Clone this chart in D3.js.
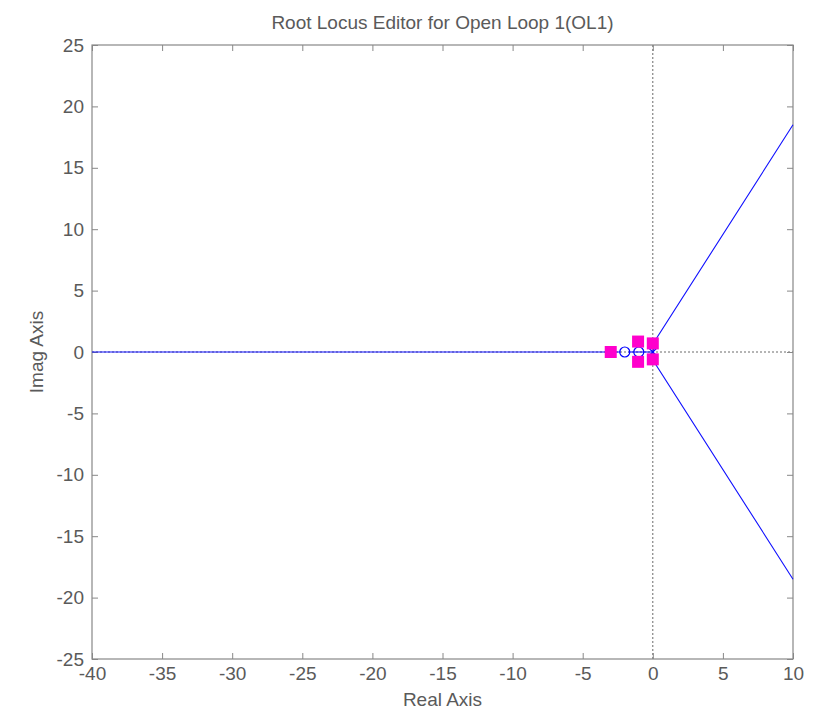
<!DOCTYPE html>
<html>
<head>
<meta charset="utf-8">
<script src="https://cdn.jsdelivr.net/npm/d3@7"></script>
<style>
  body { margin: 0; background: #fff; }
  text { font-family: "Liberation Sans", Helvetica, Arial, sans-serif; fill: #5a5a5a; }
</style>
</head>
<body>
<svg></svg>
<script>
const width = 814;
const height = 711;
const margin = { top: 45, right: 21, bottom: 52, left: 92 };

// axis ticks
const xTicks = [-40, -35, -30, -25, -20, -15, -10, -5, 0, 5, 10];
const yTicks = [-25, -20, -15, -10, -5, 0, 5, 10, 15, 20, 25];

// locus branches [re, im]
const branchUpper = [[0, 0], [0.2, 1.0], [10, 18.5]];
const branchLower = [[0, 0], [0.2, -1.0], [10, -18.5]];
const branchReal = [[-40, 0], [-2.3, 0]];
const branchInner = [[-1.75, 0], [-1.3, 0], [-0.7, 0], [0, 0]];

// open loop zeros / poles
const zeros = [[-2, 0], [-1, 0]];
const olPoles = [[0, 0]];
// closed loop poles
const clPoles = [[-3, 0], [-1.05, 0.85], [-1.05, -0.8], [0, 0.7], [0, -0.6]];

const svg = d3.select('svg')
  .attr('width', width)
  .attr('height', height);

const x = d3.scaleLinear().domain([-40, 10]).range([margin.left, width - margin.right]);
const y = d3.scaleLinear().domain([-25, 25]).range([height - margin.bottom, margin.top]);

const axisColor = '#888';
const fmt = d => String(d);

// dotted zero lines
svg.append('line')
  .attr('x1', x(0)).attr('x2', x(0))
  .attr('y1', y(25)).attr('y2', y(-25))
  .attr('stroke', '#444').attr('stroke-width', 0.8)
  .attr('stroke-dasharray', '2,2');
svg.append('line')
  .attr('x1', x(-40)).attr('x2', x(10))
  .attr('y1', y(0)).attr('y2', y(0))
  .attr('stroke', '#444').attr('stroke-width', 0.8)
  .attr('stroke-dasharray', '2,2');

// axes (ticks inside)
const styleAxis = g => {
  g.select('.domain').remove();
  g.selectAll('line').attr('stroke', axisColor);
  g.selectAll('text').attr('fill', '#5a5a5a').style('font-size', '19px');
};

svg.append('g')
  .attr('transform', `translate(0,${y(-25)})`)
  .call(d3.axisBottom(x).tickValues(xTicks).tickFormat(fmt).tickSizeInner(-6).tickSizeOuter(0).tickPadding(8))
  .call(styleAxis);
svg.append('g')
  .attr('transform', `translate(0,${y(25)})`)
  .call(d3.axisTop(x).tickValues(xTicks).tickSizeInner(-6).tickSizeOuter(0).tickFormat(''))
  .call(styleAxis);
svg.append('g')
  .attr('transform', `translate(${x(-40)},0)`)
  .call(d3.axisLeft(y).tickValues(yTicks).tickFormat(fmt).tickSizeInner(-6).tickSizeOuter(0).tickPadding(8))
  .call(styleAxis);
svg.append('g')
  .attr('transform', `translate(${x(10)},0)`)
  .call(d3.axisRight(y).tickValues(yTicks).tickSizeInner(-6).tickSizeOuter(0).tickFormat(''))
  .call(styleAxis);

// frame
svg.append('rect')
  .attr('x', x(-40)).attr('y', y(25))
  .attr('width', x(10) - x(-40)).attr('height', y(-25) - y(25))
  .attr('fill', 'none').attr('stroke', axisColor).attr('stroke-width', 1.2);

// locus
const line = d3.line().x(d => x(d[0])).y(d => y(d[1]));
svg.selectAll('path.locus')
  .data([branchUpper, branchLower, branchReal, branchInner])
  .enter()
  .append('path')
    .attr('class', 'locus')
    .attr('d', line)
    .attr('fill', 'none')
    .attr('stroke', '#1010ff')
    .attr('stroke-width', 1.1);

// zeros
svg.selectAll('circle.zero')
  .data(zeros)
  .enter()
  .append('circle')
    .attr('class', 'zero')
    .attr('cx', d => x(d[0]))
    .attr('cy', d => y(d[1]))
    .attr('r', 5)
    .attr('fill', 'none')
    .attr('stroke', '#0000ff')
    .attr('stroke-width', 1.2);

// open loop poles
const xs = 4;
olPoles.forEach(p => {
  const cx = x(p[0]), cy = y(p[1]);
  svg.append('path')
    .attr('d', `M${cx - xs},${cy - xs}L${cx + xs},${cy + xs}M${cx - xs},${cy + xs}L${cx + xs},${cy - xs}`)
    .attr('stroke', '#0000ff')
    .attr('stroke-width', 1.2);
});

// closed loop poles
const sq = 12;
svg.selectAll('rect.clp')
  .data(clPoles)
  .enter()
  .append('rect')
    .attr('class', 'clp')
    .attr('x', d => x(d[0]) - sq / 2)
    .attr('y', d => y(d[1]) - sq / 2)
    .attr('width', sq)
    .attr('height', sq)
    .attr('fill', '#ff00cc');

// labels
svg.append('text')
  .attr('x', (x(-40) + x(10)) / 2)
  .attr('y', 29)
  .attr('text-anchor', 'middle')
  .style('font-size', '19px')
  .text('Root Locus Editor for Open Loop 1(OL1)');

svg.append('text')
  .attr('x', (x(-40) + x(10)) / 2)
  .attr('y', 706)
  .attr('text-anchor', 'middle')
  .style('font-size', '19px')
  .text('Real Axis');

svg.append('text')
  .attr('transform', `translate(43,${(y(25) + y(-25)) / 2}) rotate(-90)`)
  .attr('text-anchor', 'middle')
  .style('font-size', '19px')
  .text('Imag Axis');
</script>
</body>
</html>
